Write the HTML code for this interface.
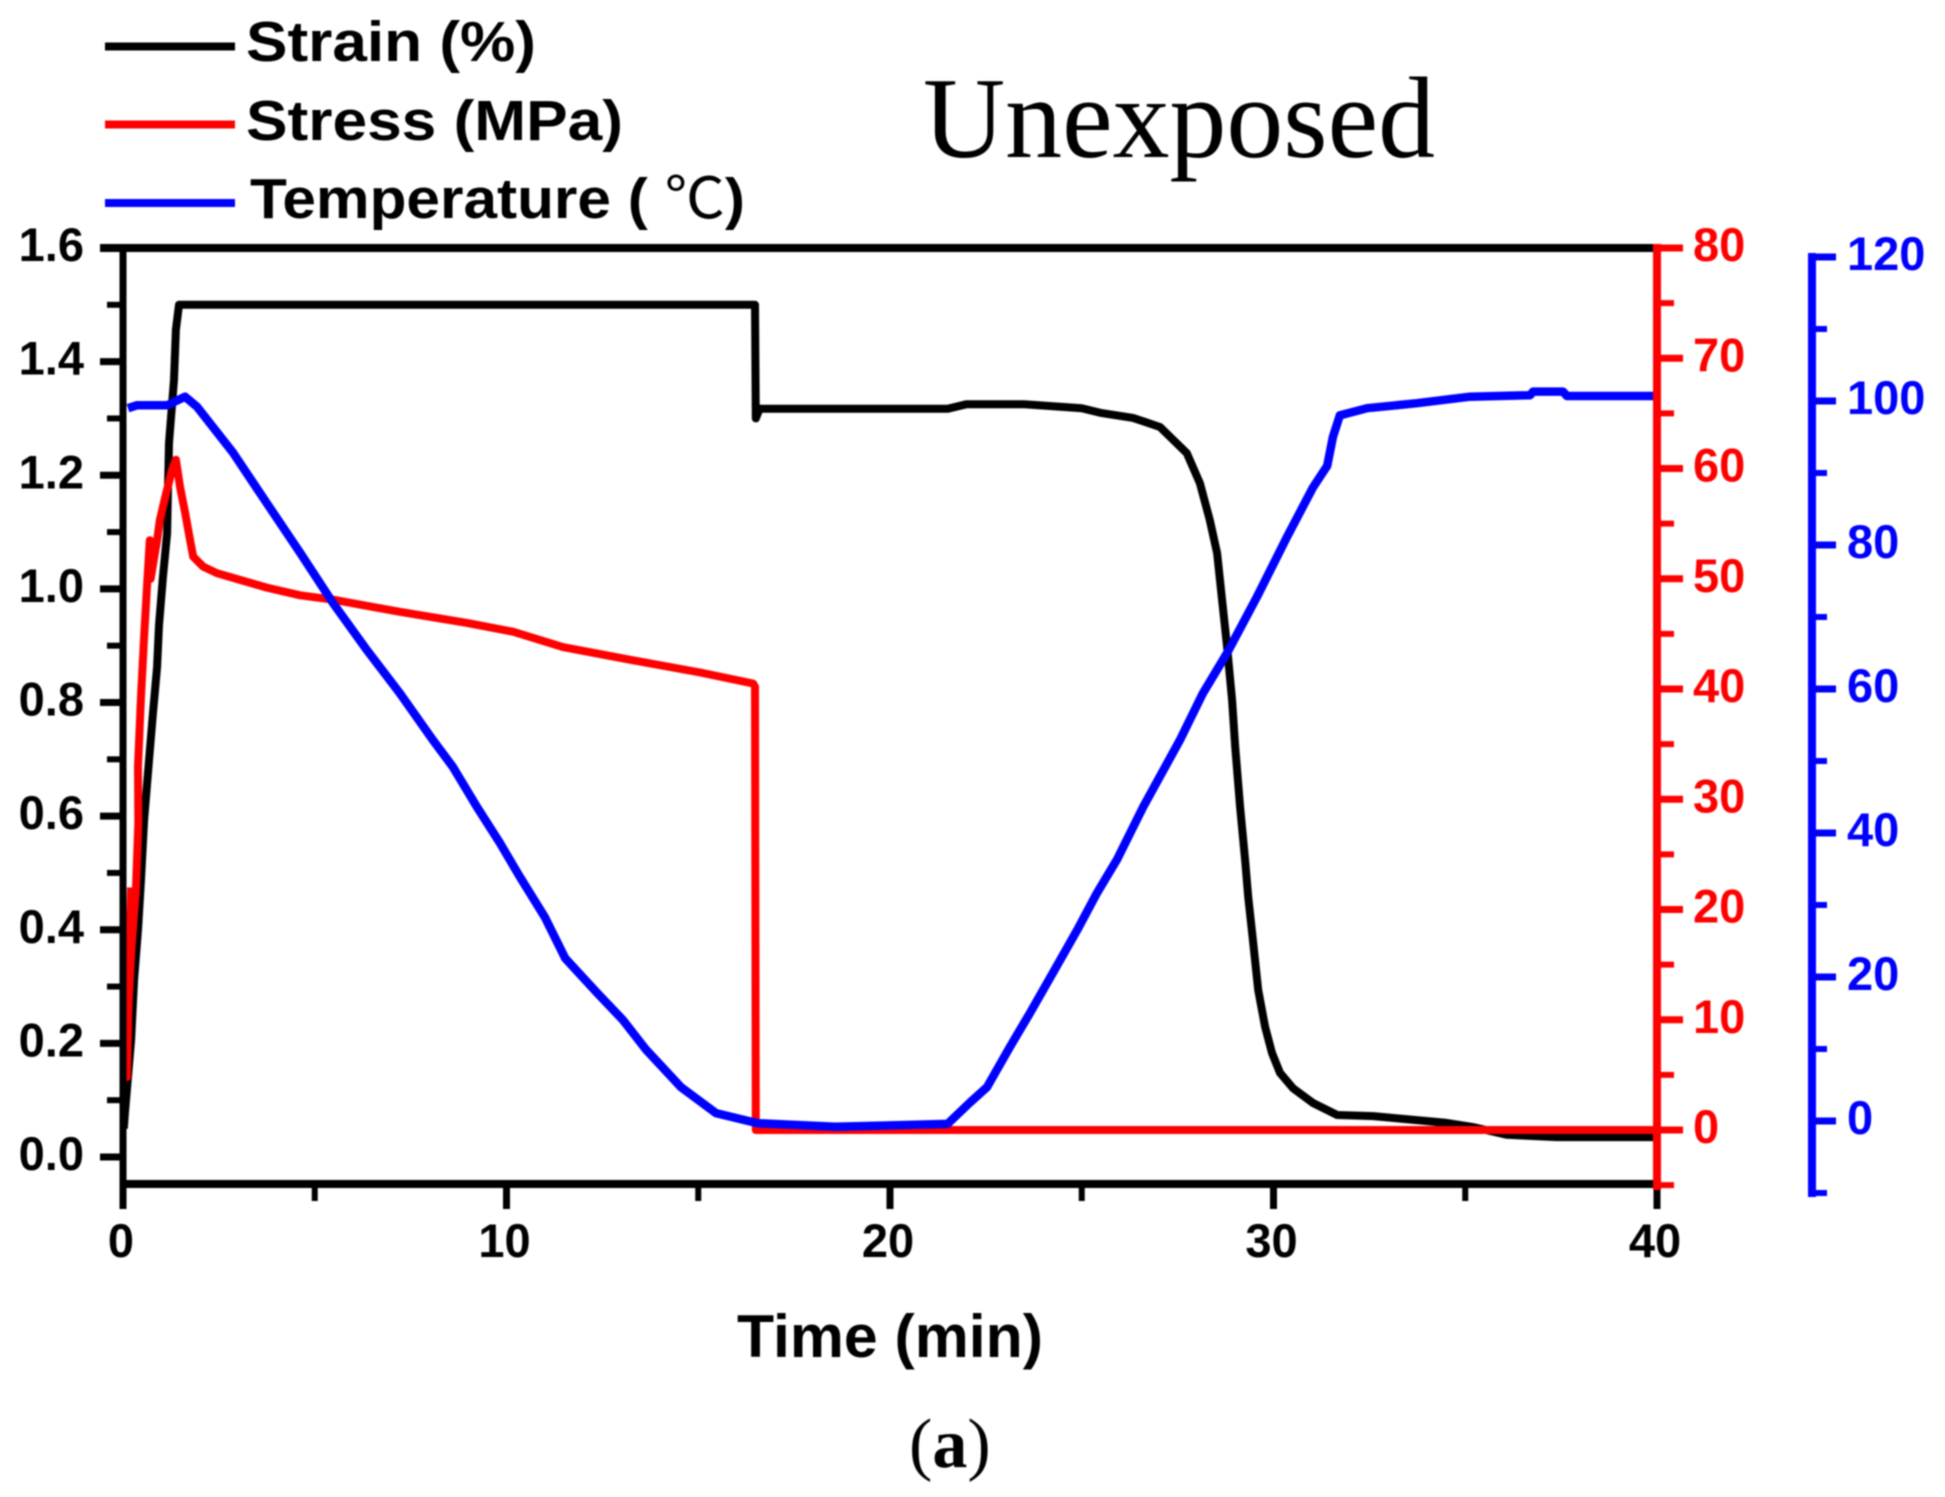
<!DOCTYPE html>
<html>
<head>
<meta charset="utf-8">
<title>Unexposed strain, stress and temperature chart</title>
<style>
html,body{margin:0;padding:0;background:#fff;}
svg{display:block;filter:blur(0.7px);}
text{font-family:"Liberation Sans","Noto Sans CJK SC",sans-serif;font-weight:bold;}
.serif{font-family:"Liberation Serif",serif;}
</style>
</head>
<body>
<svg id="chart" xmlns="http://www.w3.org/2000/svg" width="1945" height="1497" viewBox="0 0 1945 1497">
<rect x="0" y="0" width="1945" height="1497" fill="#fff"/>
<g id="series"></g>
<g id="axes"></g>
<g>
<line x1="105" x2="235" y1="46.5" y2="46.5" stroke="#000" stroke-width="8"/>
<text x="246" y="61" font-size="57" textLength="290" lengthAdjust="spacingAndGlyphs" fill="#000">Strain (%)</text>
<line x1="105" x2="235" y1="124.5" y2="124.5" stroke="#f00" stroke-width="8"/>
<text x="246" y="140" font-size="57" textLength="377" lengthAdjust="spacingAndGlyphs" fill="#000">Stress (MPa)</text>
<line x1="105" x2="235" y1="203" y2="203" stroke="#00f" stroke-width="8"/>
<text x="250" y="218" font-size="57" textLength="495" lengthAdjust="spacingAndGlyphs" fill="#000">Temperature ( <tspan style="font-family:'Noto Sans CJK SC',sans-serif;font-weight:normal">℃</tspan>)</text>
</g>
<text class="serif" x="923" y="157" font-size="115" textLength="512" lengthAdjust="spacingAndGlyphs" style="font-weight:normal" fill="#000">Unexposed</text>
<text x="737" y="1357" font-size="60" textLength="306" lengthAdjust="spacingAndGlyphs" fill="#000">Time (min)</text>
<text class="serif" x="909" y="1467" font-size="70" fill="#000"><tspan style="font-weight:normal">(</tspan>a<tspan style="font-weight:normal">)</tspan></text>
</svg>
<script>
var xTicks = [0, 10, 20, 30, 40];
var xMinorTicks = [5, 15, 25, 35];
var strainTicks = ["0.0", "0.2", "0.4", "0.6", "0.8", "1.0", "1.2", "1.4", "1.6"];
var strainMinorTicks = [0.1, 0.3, 0.5, 0.7, 0.9, 1.1, 1.3, 1.5];
var stressTicks = [0, 10, 20, 30, 40, 50, 60, 70, 80];
var stressMinorTicks = [-5, 5, 15, 25, 35, 45, 55, 65, 75];
var tempTicks = [0, 20, 40, 60, 80, 100, 120];
var tempMinorTicks = [-10, 10, 30, 50, 70, 90, 110];

var strainTime = [0.02, 0.05, 0.21, 0.29, 0.39, 0.47, 0.55, 0.68, 0.78, 0.89, 0.94, 1.04, 1.15, 1.17, 1.2, 1.33, 1.38, 1.46, 16.48, 16.5, 16.6, 21.5, 22, 23.5, 25, 25.48, 26.34, 27.04, 27.74, 28.08, 28.34, 28.53, 28.66, 28.79, 28.92, 29, 29.13, 29.26, 29.34, 29.47, 29.6, 29.78, 29.96, 30.17, 30.51, 31.03, 31.66, 32.6, 33.38, 34.52, 35.18, 36.09, 37.39, 39.9];
var strainValues = [0.05, 0.077, 0.206, 0.312, 0.4, 0.488, 0.593, 0.7, 0.78, 0.863, 0.936, 1.02, 1.098, 1.169, 1.257, 1.368, 1.456, 1.5, 1.5, 1.3, 1.317, 1.317, 1.325, 1.325, 1.318, 1.31, 1.301, 1.285, 1.239, 1.186, 1.121, 1.063, 0.98, 0.898, 0.804, 0.722, 0.616, 0.523, 0.458, 0.377, 0.294, 0.229, 0.183, 0.148, 0.121, 0.095, 0.074, 0.072, 0.067, 0.06, 0.053, 0.039, 0.035, 0.035];

var stressTime = [0.21, 0.1, 0.13, 0.21, 0.34, 0.4, 0.39, 0.47, 0.55, 0.63, 0.7, 0.72, 0.89, 0.96, 1.1, 1.28, 1.38, 1.49, 1.62, 1.75, 1.83, 2.09, 2.45, 3.05, 3.75, 4.62, 5.48, 7.22, 8.97, 10.17, 11.47, 13.3, 15.05, 16.43, 16.48, 16.5, 39.9];
var stressValues = [22, 4.8, 10.6, 16, 22, 27.8, 33, 39.3, 44.7, 49.6, 53.5, 50, 53.5, 55.3, 57.4, 59.9, 60.8, 58.3, 56, 53.5, 52, 51.1, 50.5, 49.9, 49.2, 48.5, 48.1, 47, 46, 45.2, 43.8, 42.6, 41.5, 40.5, 40.2, 0, 0];

var tempTime = [0.13, 0.36, 1.15, 1.62, 1.93, 2.87, 3.75, 4.62, 5.48, 6.36, 7.22, 8.08, 8.6, 9.23, 9.83, 10.35, 11.0, 11.53, 12.36, 13.04, 13.64, 14.55, 15.46, 16.55, 18.57, 21.5, 22.09, 22.53, 23.13, 23.65, 24.25, 24.88, 25.4, 25.92, 26.6, 27.56, 28.16, 28.79, 29.57, 30.35, 31.03, 31.4, 31.55, 31.73, 32.44, 33.74, 35.12, 36.69, 36.77, 37.55, 37.65, 39.9];
var tempValues = [99, 99.4, 99.4, 100.6, 99.2, 92.8, 85.8, 78.9, 71.9, 65.4, 59.4, 52.9, 49.2, 43.6, 38.6, 33.9, 28.3, 22.6, 17.8, 14, 9.9, 4.7, 1.1, -0.3, -0.8, -0.4, 2.6, 4.7, 10.3, 15, 20.6, 26.5, 31.7, 36.3, 43.6, 52.9, 59.4, 65, 72.8, 81.1, 88, 91, 95, 98, 99, 99.7, 100.6, 100.8, 101.3, 101.3, 100.7, 100.7];

var NS = "http://www.w3.org/2000/svg";
var seriesGroup = document.getElementById("series");
var axesGroup = document.getElementById("axes");

function xScale(t) { return 123 + t * (1657 - 123) / 40; }
function strainScale(v) { return 1157 - v * (1157 - 248) / 1.6; }
function stressScale(v) { return 1130 - v * (1130 - 248) / 80; }
function tempScale(v) { return 1121 - v * (1121 - 257) / 120; }

function makeLine(x1, y1, x2, y2, color, width) {
  var el = document.createElementNS(NS, "line");
  el.setAttribute("x1", x1);
  el.setAttribute("y1", y1);
  el.setAttribute("x2", x2);
  el.setAttribute("y2", y2);
  el.setAttribute("stroke", color);
  el.setAttribute("stroke-width", width);
  return el;
}

function makeLabel(x, y, str, color, anchor) {
  var el = document.createElementNS(NS, "text");
  el.setAttribute("x", x);
  el.setAttribute("y", y);
  el.setAttribute("fill", color);
  el.setAttribute("font-size", "47");
  el.setAttribute("text-anchor", anchor);
  el.textContent = str;
  return el;
}

function drawSeries(times, values, yScale, color, strokeWidth, name) {
  var pts = [];
  for (var i = 0; i < times.length; i++) {
    pts.push(xScale(times[i]).toFixed(1) + "," + yScale(values[i]).toFixed(1));
  }
  var el = document.createElementNS(NS, "polyline");
  el.setAttribute("points", pts.join(" "));
  el.setAttribute("fill", "none");
  el.setAttribute("stroke", color);
  el.setAttribute("stroke-width", strokeWidth);
  el.setAttribute("stroke-linejoin", "round");
  
  
  seriesGroup.appendChild(el);
}

drawSeries(strainTime, strainValues, strainScale, "#000", 8, "strain-line");
drawSeries(stressTime, stressValues, stressScale, "#f00", 8, "stress-line");
drawSeries(tempTime, tempValues, tempScale, "#00f", 8.5, "temperature-line");

function addAxisPart(el, name) {
  
  
  axesGroup.appendChild(el);
}

addAxisPart(makeLine(100, 248, 1657, 248, "#000", 8), "top-axis-line");
addAxisPart(makeLine(123, 1184, 1657, 1184, "#000", 8), "x-axis-line");
addAxisPart(makeLine(123, 244, 123, 1208, "#000", 7), "left-axis-line");

xTicks.forEach(function (t) {
  addAxisPart(makeLine(xScale(t), 1184, xScale(t), 1209, "#000", 7), "x-tick");
  addAxisPart(makeLabel(xScale(t) - 2, 1257, String(t), "#000", "middle"), "x-tick-label");
});
xMinorTicks.forEach(function (t) {
  addAxisPart(makeLine(xScale(t), 1184, xScale(t), 1201, "#000", 6), "x-minor-tick");
});

strainTicks.forEach(function (label) {
  var y = strainScale(parseFloat(label));
  addAxisPart(makeLine(100, y, 123, y, "#000", 7), "strain-tick");
  addAxisPart(makeLabel(84, y + 13, label, "#000", "end"), "strain-tick-label");
});
strainMinorTicks.forEach(function (v) {
  addAxisPart(makeLine(107, strainScale(v), 123, strainScale(v), "#000", 6), "strain-minor-tick");
});

addAxisPart(makeLine(1657, 244, 1657, 1190, "#f00", 8), "stress-axis-line");
stressTicks.forEach(function (v) {
  var y = stressScale(v);
  addAxisPart(makeLine(1657, y, 1683, y, "#f00", 7), "stress-tick");
  addAxisPart(makeLabel(1693, y + 13, String(v), "#f00", "start"), "stress-tick-label");
});
stressMinorTicks.forEach(function (v) {
  addAxisPart(makeLine(1657, stressScale(v), 1674, stressScale(v), "#f00", 6), "stress-minor-tick");
});

addAxisPart(makeLine(1812, 253, 1812, 1197, "#00f", 8), "temperature-axis-line");
tempTicks.forEach(function (v) {
  var y = tempScale(v);
  addAxisPart(makeLine(1812, y, 1836, y, "#00f", 7), "temperature-tick");
  addAxisPart(makeLabel(1847, y + 13, String(v), "#00f", "start"), "temperature-tick-label");
});
tempMinorTicks.forEach(function (v) {
  addAxisPart(makeLine(1812, tempScale(v), 1827, tempScale(v), "#00f", 6), "temperature-minor-tick");
});
</script>
</body>
</html>
